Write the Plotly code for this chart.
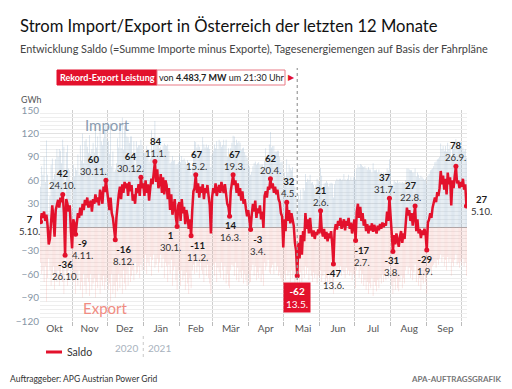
import pandas as pd
import plotly.graph_objects as go

# ---------------- data (GWh per day) ----------------
dates = pd.date_range("2020-10-05", "2021-10-05", freq="D")

saldo_okt = [7, 18, 12, 20, 8, 16, 2, -22, -15, 5, 28, 12, -12, 22, 30, 35, 25, 38, 32, 42, 18, -36, 36, 30, 20, 28, -5]
saldo_nov = [-27, 10, 5, -9, 8, 18, 12, 25, 15, 30, 22, 35, 28, 38, 25, 30, 34, 20, 36, 30, 42, 32, 38, 28, 48, 42, 30, 52, 45, 60]
saldo_dez = [48, 30, 22, 38, 18, 12, -4, -16, 12, 32, 42, 52, 36, 55, 44, 58, 50, 56, 40, 58, 46, 54, 34, 42, 30, 50, 44, 55, 40, 64, 50]
saldo_jan = [56, 40, 60, 44, 55, 34, 50, 62, 55, 70, 84, 58, 74, 50, 56, 68, 44, 64, 42, 60, 54, 36, 50, 22, 42, 16, 30, 36, 12, 1, 28]
saldo_feb = [32, 8, 36, 18, 26, 4, 22, 14, -2, 10, -11, 22, 46, 50, 67, 44, 56, 38, 52, 44, 55, 36, 50, 44, 54, 40, 28, -8]
saldo_mar = [38, 50, 44, 56, 40, 48, 54, 44, 58, 50, 44, 55, 40, 30, 26, 14, 46, 60, 67, 54, 60, 44, 56, 40, 50, 34, 46, 30, 36, 24, 14]
saldo_apr = [22, 6, -3, 16, 30, 20, 34, 12, 24, 18, 28, 10, 20, -1, 40, 46, 38, 52, 48, 62, 50, 56, 44, 52, 42, 48, 36, 32, 18, 14]
saldo_mai = [-26, 10, -5, 32, 8, 22, 5, 18, 12, 2, -20, -30, -62, -20, -40, -10, -35, -5, -18, 18, -2, 10, -8, 12, -5, -12, -4, -15, -6, -10, -3]
saldo_jun = [-8, 21, -4, -12, -2, -15, -6, -18, -8, -14, -5, -22, -47, -5, 4, -3, 8, 2, 12, -2, 6, 10, -4, 8, 2, 12, -2, 6, -8, 4]
saldo_jul = [10, -17, 20, 30, 12, 26, 8, 18, 2, 10, -5, 4, -8, 2, -4, 5, -6, 3, -2, -8, 2, -4, 4, -2, 6, 0, 5, 2, 20, 8, 37]
saldo_aug = [10, -20, -31, -10, -22, -8, -18, -25, -12, -5, -20, -8, -15, 5, 25, 15, 22, 8, 18, 2, 12, 27, -5, 10, -8, -2, -14, -4, -10, -2, -8]
saldo_sep = [-29, 6, 10, 18, 12, 25, 30, 38, 32, 45, 40, 50, 72, 55, 66, 48, 62, 42, 70, 55, 64, 28, 60, 50, 66, 78, 56, 60, 50, 58]
saldo_okt21 = [52, 62, 48, 55, 27]

export_okt = [-45, -60, -55, -70, -50, -95, -65, -40, -55, -75, -60, -50, -80, -65, -70, -55, -75, -60, -50, -70, -85, -40, -60, -75, -55, -45, -65]
export_nov = [-50, -70, -60, -85, -65, -75, -55, -80, -70, -90, -60, -75, -85, -65, -70, -88, -60, -80, -72, -65, -90, -70, -78, -60, -85, -68, -75, -62, -80, -70]
export_dez = [-65, -80, -72, -95, -60, -85, -75, -90, -70, -82, -60, -78, -65, -85, -55, -72, -80, -60, -75, -50, -70, -62, -55, -68, -45, -60, -58, -50, -65, -48, -55]
export_jan = [-40, -55, -35, -60, -45, -50, -38, -62, -42, -35, -52, -48, -40, -58, -45, -35, -52, -40, -65, -45, -50, -70, -48, -60, -42, -75, -55, -50, -68, -80, -55]
export_feb = [-60, -75, -55, -68, -62, -80, -58, -72, -85, -65, -78, -55, -48, -60, -42, -58, -50, -65, -45, -55, -60, -70, -52, -62, -48, -65, -72, -85]
export_mar = [-55, -48, -62, -45, -70, -52, -58, -65, -45, -55, -68, -50, -72, -60, -75, -78, -55, -48, -50, -62, -45, -68, -52, -70, -58, -65, -55, -72, -60, -68, -75]
export_apr = [-60, -72, -70, -55, -48, -62, -50, -68, -58, -65, -52, -70, -60, -75, -45, -55, -50, -42, -58, -60, -52, -48, -60, -45, -55, -50, -62, -58, -65, -70]
export_mai = [-75, -60, -68, -55, -62, -58, -70, -55, -65, -60, -72, -68, -80, -62, -75, -58, -70, -55, -65, -50, -60, -52, -68, -55, -62, -70, -58, -65, -60, -72, -62]
export_jun = [-65, -55, -70, -62, -58, -72, -65, -75, -60, -70, -62, -78, -85, -60, -55, -65, -52, -60, -50, -62, -55, -58, -65, -52, -60, -55, -62, -58, -68, -60]
export_jul = [-62, -78, -55, -50, -65, -55, -72, -60, -75, -68, -80, -70, -85, -72, -78, -65, -88, -70, -75, -82, -68, -78, -65, -72, -60, -70, -62, -68, -55, -65, -50]
export_aug = [-62, -75, -85, -70, -80, -65, -78, -82, -70, -62, -78, -65, -72, -55, -50, -60, -52, -65, -55, -68, -58, -48, -70, -60, -75, -65, -80, -68, -72, -62, -70]
export_sep = [-85, -60, -58, -55, -62, -50, -48, -45, -52, -42, -48, -40, -35, -45, -38, -50, -42, -55, -38, -45, -40, -62, -45, -50, -42, -35, -48, -45, -52, -44]
export_okt21 = [-48, -40, -50, -45, -62]

saldo = (saldo_okt + saldo_nov + saldo_dez + saldo_jan + saldo_feb + saldo_mar + saldo_apr
         + saldo_mai + saldo_jun + saldo_jul + saldo_aug + saldo_sep + saldo_okt21)
exports = (export_okt + export_nov + export_dez + export_jan + export_feb + export_mar + export_apr
           + export_mai + export_jun + export_jul + export_aug + export_sep + export_okt21)
assert len(saldo) == len(dates) == len(exports)
imports = [s - e for s, e in zip(saldo, exports)]   # Saldo = Importe - Exporte

month_labels = ["Okt", "Nov", "Dez", "Jän", "Feb", "Mär", "Apr", "Mai", "Jun", "Jul", "Aug", "Sep"]
month_label_pos = ["2020-10-17", "2020-11-16", "2020-12-16", "2021-01-16", "2021-02-15", "2021-03-17",
                   "2021-04-16", "2021-05-18", "2021-06-17", "2021-07-17", "2021-08-17", "2021-09-17"]
month_starts = ["2020-11-01", "2020-12-01", "2021-01-01", "2021-02-01", "2021-03-01", "2021-04-01",
                "2021-05-01", "2021-06-01", "2021-07-01", "2021-08-01", "2021-09-01", "2021-10-01"]
y_ticks = [-120, -90, -60, -30, 30, 60, 90, 120, 150]

# labelled extremes: (date, kind, xshift)
extremes = [
    ("2020-10-24", "max", 0), ("2020-10-26", "min", 0), ("2020-11-30", "max", -12), ("2020-11-04", "min", 7),
    ("2020-12-30", "max", -10), ("2020-12-08", "min", 8), ("2021-01-11", "max", 1), ("2021-01-30", "min", -7),
    ("2021-02-15", "max", 1), ("2021-02-11", "min", 6), ("2021-03-19", "max", 1), ("2021-03-16", "min", 1),
    ("2021-04-20", "max", 0), ("2021-04-03", "min", 7), ("2021-05-04", "max", 2), ("2021-06-02", "max", 0),
    ("2021-06-13", "min", 0), ("2021-07-02", "min", 6), ("2021-07-31", "max", -5), ("2021-08-03", "min", -1),
    ("2021-08-22", "max", -5), ("2021-09-01", "min", -2), ("2021-09-26", "max", 0),
]
record_day = "2021-05-13"
first_day = "2020-10-05"
last_day = "2021-10-05"

RED = "#e3112c"
FONT = "Lato"
date_str = [d.strftime("%Y-%m-%d") for d in dates]


def val(d):
    return saldo[date_str.index(d)]


def dlabel(d):
    t = pd.Timestamp(d)
    return f"{t.day}.{t.month}."


def px_x(p):
    return (p - 40) / 427.0


def px_y(p):
    return (321 - p) / 211.0


fig = go.Figure()
fig.add_trace(go.Bar(x=dates, y=imports, marker=dict(color="rgba(160,186,210,0.55)", line=dict(width=0)),
                     showlegend=False, hoverinfo="skip"))
fig.add_trace(go.Bar(x=dates, y=exports, marker=dict(color="rgba(238,150,140,0.36)", line=dict(width=0)),
                     showlegend=False, hoverinfo="skip"))
fig.add_trace(go.Scatter(x=dates, y=saldo, mode="lines", name="Saldo",
                         line=dict(color=RED, width=2.5), showlegend=False))

mark_days = [e[0] for e in extremes] + [record_day, first_day, last_day]
fig.add_trace(go.Scatter(x=mark_days, y=[val(d) for d in mark_days], mode="markers",
                         marker=dict(color=RED, size=5), showlegend=False, hoverinfo="skip"))

ann = []


def data_label(d, xs, ys, yanchor):
    v = val(d)
    ann.append(dict(x=d, y=v, xref="x", yref="y",
                    text=f"<b><span style='color:#1a1a1a'>{v}</span></b><br>{dlabel(d)}",
                    showarrow=False, xanchor="center", yanchor=yanchor, xshift=xs, yshift=ys,
                    borderpad=0, font=dict(family=FONT, size=9.6, color="#333")))


for d, kind, xs in extremes:
    if kind == "max":
        data_label(d, xs, 2, "bottom")
    else:
        data_label(d, xs, -3, "top")

# first / last day labels outside the plot
data_label(first_day, -11, -4, "middle")
data_label(last_day, 15, 1, "middle")

# record export day box
rv = val(record_day)
ann.append(dict(x=record_day, y=rv, xref="x", yref="y", text=f"<b>{rv}</b><br>{dlabel(record_day)}",
                showarrow=False, xanchor="center", yanchor="top", yshift=-6, bgcolor=RED, borderpad=2,
                font=dict(family=FONT, size=10, color="white")))


def paper_text(xp, yp, text, size, color, xanchor="center", family=FONT):
    ann.append(dict(x=px_x(xp), y=px_y(yp), xref="paper", yref="paper", text=text, showarrow=False,
                    xanchor=xanchor, yanchor="middle", borderpad=0,
                    font=dict(family=family, size=size, color=color)))


paper_text(19, 26, "Strom Import/Export in Österreich der letzten 12 Monate", 16.6, "#111", "left")
paper_text(19, 48, "Entwicklung Saldo (=Summe Importe minus Exporte), Tagesenergiemengen auf Basis der Fahrpläne",
           10.9, "#444", "left")
paper_text(107, 77.5, "<b>Rekord-Export Leistung</b>", 9, "white")
paper_text(221, 77.5, "von <b>4.483,7 MW</b> um 21:30 Uhr", 9, "#222")
paper_text(291, 77.5, "▶", 8, RED, family="DejaVu Sans")
paper_text(20, 99.5, "GWh", 8.8, "#555", "left")
paper_text(107, 125, "Import", 15, "#8a9cb0")
paper_text(105, 308, "Export", 15, "#f08c82")
paper_text(139, 348, "2020", 10, "#a8b2bd", "right")
paper_text(147, 348, "2021", 10, "#a8b2bd", "left")
paper_text(66, 352, "Saldo", 10.5, "#333", "left")
paper_text(9, 379, "Auftraggeber: APG Austrian Power Grid", 8.5, "#333", "left")
paper_text(502, 379, "<b>APA-AUFTRAGSGRAFIK</b>", 8, "#777", "right")

shapes = [
    dict(type="rect", xref="paper", yref="paper", x0=px_x(57), x1=px_x(157), y0=px_y(85), y1=px_y(70),
         fillcolor=RED, line=dict(color=RED, width=1)),
    dict(type="rect", xref="paper", yref="paper", x0=px_x(157), x1=px_x(285), y0=px_y(85), y1=px_y(70),
         fillcolor="white", line=dict(color="#e87a86", width=1)),
    dict(type="line", xref="x", yref="paper", x0=record_day, x1=record_day, y0=px_y(280), y1=px_y(68),
         line=dict(color="#9a9a9a", width=1.2, dash="dot"), layer="above"),
    dict(type="line", xref="x", yref="paper", x0="2021-01-01", x1="2021-01-01", y0=px_y(336), y1=px_y(360),
         line=dict(color="#c8c8c8", width=1, dash="dot")),
    # legend swatch for "Saldo"
    dict(type="line", xref="paper", yref="paper", x0=px_x(46), x1=px_x(62), y0=px_y(352), y1=px_y(352),
         line=dict(color=RED, width=3)),
]

fig.update_layout(
    width=512, height=389, autosize=False,
    margin=dict(l=40, r=45, t=110, b=68),
    paper_bgcolor="white", plot_bgcolor="white",
    barmode="overlay", bargap=0.45,
    annotations=ann, shapes=shapes,
    showlegend=False,
    font=dict(family=FONT),
)
fig.update_xaxes(
    type="date", range=["2020-10-04 12:00", "2021-10-05 12:00"],
    tickmode="array", tickvals=month_label_pos, ticktext=month_labels,
    showgrid=False, ticks="", tickfont=dict(family=FONT, size=10, color="#555"),
    minor=dict(tickmode="array", tickvals=month_starts, showgrid=True, gridcolor="#cfcfcf",
               gridwidth=1, ticks="outside", ticklen=4, tickcolor="#bbbbbb"),
    showline=False, zeroline=False, fixedrange=True,
)
fig.update_yaxes(
    range=[-120, 150], tickmode="array", tickvals=y_ticks,
    showgrid=True, gridcolor="#e2e2e2", gridwidth=1,
    minor=dict(dtick=5, showgrid=True, gridcolor="#eeeeee", gridwidth=1),
    zeroline=True, zerolinecolor="#a8a8a8", zerolinewidth=1,
    tickfont=dict(family=FONT, size=10, color="#8796a6"), ticks="", showline=False,
    fixedrange=True,
)

fig.write_html("out.html", config={"displayModeBar": False},
               post_script="document.body.style.margin='0px';")
